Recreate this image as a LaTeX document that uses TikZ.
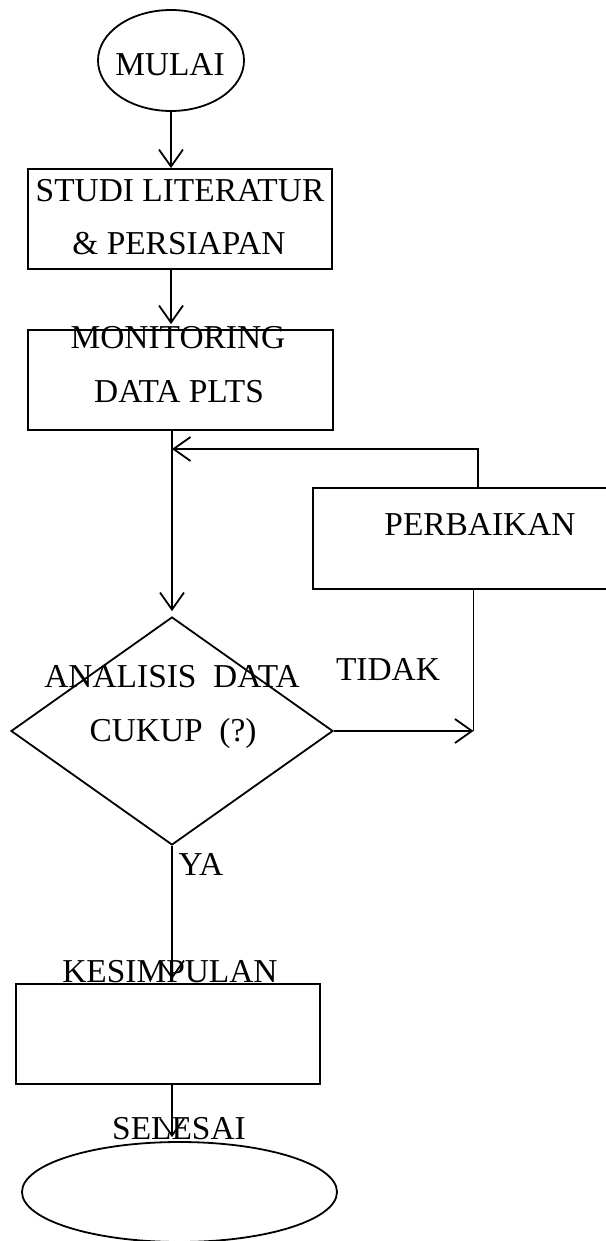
\documentclass[tikz,border=0pt]{standalone}
\usepackage{fontspec}
\setmainfont{Liberation Serif}
\usetikzlibrary{shapes.geometric,arrows.meta,calc}
\begin{document}
\begin{tikzpicture}[x=0.5pt,y=-0.5pt,
  shp/.style={draw,line width=0.9pt,inner sep=0pt},
  box/.style={shp,rectangle},
  term/.style={shp,ellipse},
  dec/.style={shp,diamond},
  txt/.style={anchor=base,inner sep=0pt,font=\fontsize{16.7}{20}\selectfont},
  arr/.style={line width=0.9pt,-{Straight Barb[length=8.5pt,width=12pt,line width=0.9pt]}},
  ln/.style={line width=0.9pt}]
\useasboundingbox (0,0) rectangle (605,1241);
% shapes
\node[term,minimum width=73pt,minimum height=50.5pt] (mulai) at (171,60.5) {};
\node[box,minimum width=152pt,minimum height=50pt] (studi) at (180,219) {};
\node[box,minimum width=152.5pt,minimum height=50pt] (monit) at (180.5,380) {};
\node[box,minimum width=149.5pt,minimum height=50.5pt] (perb) at (462.5,538.5) {};
\node[dec,minimum width=161pt,minimum height=114pt] (dia) at (172,731) {};
\node[box,minimum width=152pt,minimum height=50pt] (kes) at (168,1034) {};
\node[term,minimum width=157.5pt,minimum height=50pt] (sel) at (179.5,1192) {};
% texts
\node[txt] (tmulai) at (170,76) {MULAI};
\node[txt] (tstudi1) at (180,201.5) {STUDI LITERATUR};
\node[txt] (tstudi2) at (179,255) {\& PERSIAPAN};
\node[txt] (tmon1) at (178,348) {MONITORING};
\node[txt] (tmon2) at (179,402) {DATA PLTS};
\node[txt] (tperb) at (480,535) {PERBAIKAN};
\node[txt] (tana1) at (172,687) {ANALISIS\ \ DATA};
\node[txt] (tana2) at (173,741) {CUKUP\ \ (?)};
\node[txt] (ttidak) at (388,680) {TIDAK};
\node[txt] (tya) at (201,875) {YA};
\node[txt] (tkes) at (170,982) {KESIMPULAN};
\node[txt] (tsel) at (179,1139) {SELESAI};
% connectors
\draw[arr] (mulai.south) -- (mulai.south |- studi.north);
\draw[arr,shorten >=2.5pt] (studi.south -| mulai.south) -- (monit.north -| mulai.south);
\draw[arr,shorten >=2.5pt] (monit.south -| dia.north) -- (dia.north);
\coordinate (fb) at (172,449);
\draw[arr] ($(perb.north)+(15.5,0)$) |- (fb);
\coordinate (pj) at ($(perb.south)+(11,0)$);
\draw[ln] (pj) -- (pj |- dia.east) coordinate (j);
\draw[arr] (dia.east) -- (j);
\draw[arr,shorten >=2pt] (dia.south) -- (dia.south |- kes.north);
\draw[arr,shorten >=2pt] (kes.south -| dia.south) -- (sel.north -| dia.south);
\end{tikzpicture}
\end{document}
